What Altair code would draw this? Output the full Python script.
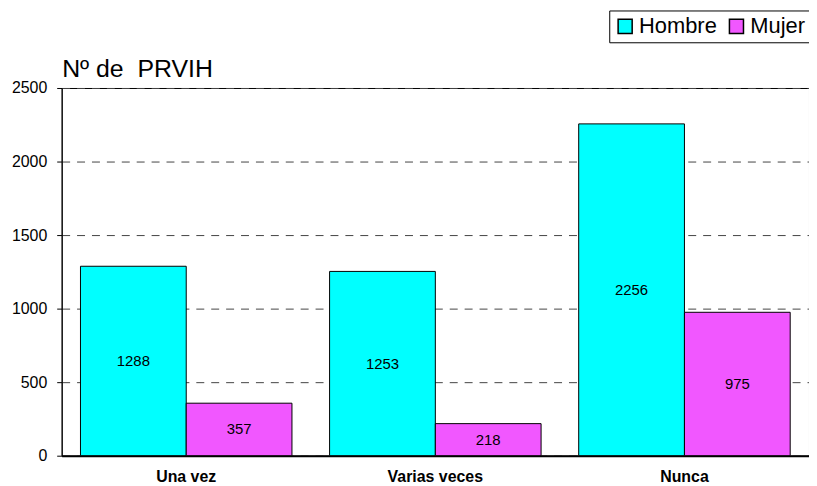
import altair as alt
import pandas as pd

categories = ["Una vez", "Varias veces", "Nunca"]
series = ["Hombre", "Mujer"]
hombre = [1288, 1253, 2256]
mujer = [357, 218, 975]
colors = ["#00FFFF", "#F157FF"]
y_ticks = [0, 500, 1000, 1500, 2000, 2500]

rows = []
for c, h, m in zip(categories, hombre, mujer):
    rows.append({"cat": c, "sexo": "Hombre", "n": h})
    rows.append({"cat": c, "sexo": "Mujer", "n": m})
df = pd.DataFrame(rows)

FONT = "Liberation Sans"

y_axis = alt.Axis(
    title="Nº de\u00a0 PRVIH", titleAngle=0, titleX=0, titleY=-12,
    titleAlign="left", titleBaseline="alphabetic", titleFont=FONT,
    titleFontSize=25, titleFontWeight="normal", titleColor="black",
    values=y_ticks, format="d", labelFont=FONT, labelFontSize=16,
    labelColor="black", tickColor="black", tickSize=5, labelPadding=10,
    domainColor="black", grid=True, gridDash=[8, 7], gridColor="#444444",
)
y_scale = alt.Scale(domain=[0, 2500], nice=False)

base = alt.Chart(df).encode(
    x=alt.X(
        "cat:N",
        sort=categories,
        scale=alt.Scale(paddingInner=0.151, paddingOuter=0.0755),
        axis=alt.Axis(
            title=None, labelAngle=0, labelFont=FONT, labelFontWeight="bold",
            labelFontSize=16, labelColor="black", ticks=False, labelPadding=13,
            domainColor="black", domainWidth=2,
        ),
    ),
    xOffset=alt.XOffset("sexo:N", sort=series,
                        scale=alt.Scale(paddingInner=0, paddingOuter=0)),
)

bars = base.mark_bar(stroke="black", strokeWidth=1).encode(
    y=alt.Y("n:Q", scale=y_scale, axis=y_axis),
    color=alt.Color(
        "sexo:N", sort=series,
        scale=alt.Scale(domain=series, range=colors),
        legend=alt.Legend(
            title=None, orient="none", legendX=551, legendY=-78,
            direction="horizontal", symbolType="square", symbolSize=200,
            symbolStrokeColor="black", symbolStrokeWidth=1.5,
            labelFont=FONT, labelFontSize=22, labelColor="black",
            strokeColor="black", padding=5, columnPadding=8, labelOffset=3,
        ),
    ),
)

text = base.transform_calculate(mid="datum.n / 2").mark_text(
    font=FONT, fontSize=15, color="black"
).encode(
    y=alt.Y("mid:Q", scale=y_scale, axis=y_axis),
    text="n:Q",
)

chart = alt.layer(bars, text).properties(
    width=752,
    height=370,
    autosize=alt.AutoSizeParams(type="none"),
    padding={"left": 54, "top": 79, "right": 0, "bottom": 30},
).configure_view(stroke="black", strokeWidth=1)

chart.save("out.html", embed_options={"renderer": "svg", "actions": False})
